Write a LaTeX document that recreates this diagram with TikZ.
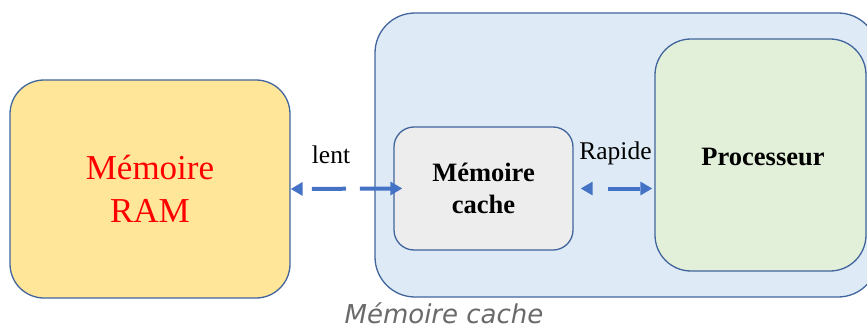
\documentclass[tikz,border=0pt]{standalone}
\usepackage{fontspec}
\setmainfont{Liberation Serif}
\newfontfamily\capfont{DejaVu Sans}
\usetikzlibrary{arrows.meta}
\definecolor{edgeblue}{HTML}{41659C}
\definecolor{arrowblue}{HTML}{4472C4}
\definecolor{ramfill}{HTML}{FFE699}
\definecolor{bluefill}{HTML}{DEEBF7}
\definecolor{greenfill}{HTML}{E2F0D9}
\definecolor{greyfill}{HTML}{EDEDED}
\definecolor{capgrey}{HTML}{6A6A6A}
\tikzset{
  block/.style={draw=edgeblue, line width=1.3pt, align=center, inner sep=0pt},
  link/.style={arrowblue, line width=4pt,
    arrows={Triangle[length=12pt,width=13pt]-Triangle[length=12pt,width=13pt]}},
  lbl/.style={font=\fontsize{25.5}{30}\selectfont, inner sep=0pt}
}
\begin{document}
\begin{tikzpicture}[x=1pt,y=-1pt]
\useasboundingbox (0,0) rectangle (867,326);
\clip (0,0) rectangle (867,326);
% outer zone holding the cache and the processor
\node[block, fill=bluefill, rounded corners=40pt, minimum width=503pt, minimum height=284pt]
  (zone) at (626.5,155) {};
% main memory
\node[block, fill=ramfill, rounded corners=34pt, minimum width=280pt, minimum height=218pt,
  text=red, font=\fontsize{35}{43}\selectfont] (ram) at (150,189) {Mémoire\\RAM};
% cache memory
\node[block, fill=greyfill, rounded corners=20pt, minimum width=179pt, minimum height=123pt,
  font=\bfseries\fontsize{26.5}{32}\selectfont] (cache) at (483.5,188.5) {Mémoire\\cache};
% processor
\node[block, fill=greenfill, rounded corners=36pt, minimum width=211pt, minimum height=232pt]
  (cpu) at (760.5,155) {};
\node[font=\bfseries\fontsize{26.5}{32}\selectfont, inner sep=0pt] (cpulbl) at (763,157) {Processeur};
% links
\draw[link, dash pattern=on 34pt off 14pt, dash phase=38pt, shorten >=-9pt]
  (ram.east) -- (cache.west);
\draw[link, dash pattern=on 32pt off 16pt, dash phase=32pt, shorten <=7pt, shorten >=2pt]
  (cache.east) -- (cpu.west |- cache.east);
\node[lbl] (lent) at (331,155) {lent};
\node[lbl] (rapide) at (615.5,153) {Rapide};
% caption
\node[font=\capfont\itshape\fontsize{26}{30}\selectfont, text=capgrey, inner sep=0pt, anchor=base]
  (caption) at (444,323) {Mémoire cache};
\end{tikzpicture}
\end{document}
